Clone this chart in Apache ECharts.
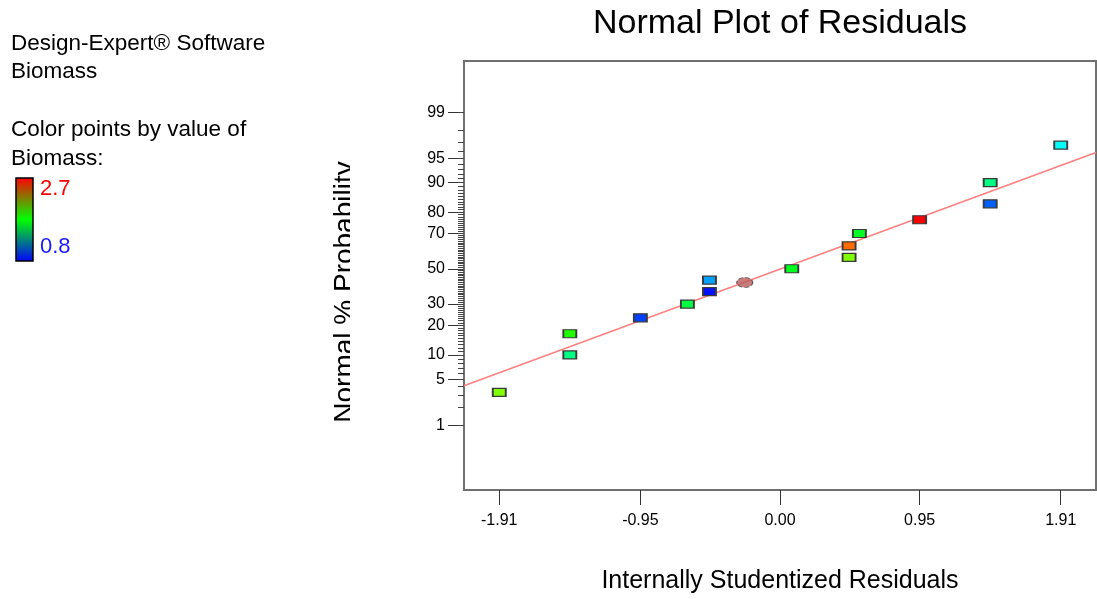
<!DOCTYPE html>
<html>
<head>
<meta charset="utf-8">
<title>Normal Plot of Residuals</title>
<script src="https://cdn.jsdelivr.net/npm/echarts@6.0.0/dist/echarts.min.js"></script>
<style>
  html, body { margin: 0; padding: 0; background: #fff; }
  #chart { width: 1097px; height: 599px; }
</style>
</head>
<body>
<div id="chart"></div>
<script>
// values
const probTicks = [1, 5, 10, 20, 30, 50, 70, 80, 90, 95, 99]
const residualTicks = [-1.91, -0.95, 0.00, 0.95, 1.91]
const residuals = [-1.91, -1.43, -1.43, -0.95, -0.63, -0.48, -0.48, 0.08, 0.47, 0.47, 0.54, 0.95, 1.43, 1.43, 1.91]
const probabilities = [3.3, 10, 16.7, 23.3, 30, 36.7, 43.3, 50, 56.7, 63.3, 70, 76.7, 83.3, 90, 96.7]
const biomass = [1.99, 1.51, 1.81, 0.92, 1.63, 0.83, 1.10, 1.69, 1.99, 2.50, 1.69, 2.70, 0.98, 1.51, 1.28]
const markedPoint = [-0.24, 41.9]
const fitResidual = [-2.15, 2.15]
const fitProbability = [4.1, 95.8]
const biomassRange = [0.8, 2.7]

const FONT = 'Liberation Sans, Arial, sans-serif'

// inverse normal cdf (Acklam) -> probability scale
function qnorm(p) {
  const a = [-39.6968302866538, 220.946098424521, -275.928510446969, 138.357751867269, -30.6647980661472, 2.50662827745924]
  const b = [-54.4760987982241, 161.585836858041, -155.698979859887, 66.8013118877197, -13.2806815528857]
  const c = [-0.00778489400243029, -0.322396458041136, -2.40075827716184, -2.54973253934373, 4.37466414146497, 2.93816398269878]
  const d = [0.00778469570904146, 0.32246712907004, 2.445134137143, 3.75440866190742]
  const pl = 0.02425
  let q, r
  if (p < pl) {
    q = Math.sqrt(-2 * Math.log(p))
    return (((((c[0] * q + c[1]) * q + c[2]) * q + c[3]) * q + c[4]) * q + c[5]) / ((((d[0] * q + d[1]) * q + d[2]) * q + d[3]) * q + 1)
  }
  if (p > 1 - pl) {
    q = Math.sqrt(-2 * Math.log(1 - p))
    return -(((((c[0] * q + c[1]) * q + c[2]) * q + c[3]) * q + c[4]) * q + c[5]) / ((((d[0] * q + d[1]) * q + d[2]) * q + d[3]) * q + 1)
  }
  q = p - 0.5
  r = q * q
  return (((((a[0] * r + a[1]) * r + a[2]) * r + a[3]) * r + a[4]) * r + a[5]) * q / (((((b[0] * r + b[1]) * r + b[2]) * r + b[3]) * r + b[4]) * r + 1)
}
const toZ = pct => qnorm(pct / 100)

const zTicks = probTicks.map(toZ)
const zMinor = []
for (let i = 1; i <= 99; i++) zMinor.push(toZ(i))

const chart = echarts.init(document.getElementById('chart'))

chart.setOption({
  animation: false,
  textStyle: { fontFamily: FONT },
  grid: {
    left: 464,
    right: 1,
    top: 61,
    bottom: 105,
    show: true,
    borderColor: '#707070',
    borderWidth: 2
  },
  xAxis: {
    type: 'value',
    min: -2.15,
    max: 2.15,
    splitLine: { show: false },
    axisLine: { show: false, onZero: false },
    axisTick: {
      customValues: residualTicks,
      length: 15,
      lineStyle: { color: '#333' }
    },
    axisLabel: {
      customValues: residualTicks,
      formatter: v => v.toFixed(2),
      margin: 23,
      fontSize: 16,
      color: '#000',
      fontFamily: FONT
    },
    name: 'Internally Studentized Residuals',
    nameLocation: 'middle',
    nameGap: 79,
    nameTextStyle: { fontSize: 25, color: '#000', fontFamily: FONT }
  },
  yAxis: [{
    type: 'value',
    min: -3.29,
    max: 3.09,
    splitLine: { show: false },
    axisLine: { show: false, onZero: false },
    axisTick: {
      customValues: zTicks,
      length: 16,
      lineStyle: { color: '#333' }
    },
    axisLabel: {
      customValues: zTicks,
      formatter: v => {
        const i = zTicks.findIndex(z => Math.abs(z - v) < 1e-6)
        return i >= 0 ? String(probTicks[i]) : ''
      },
      margin: 19,
      fontSize: 16,
      color: '#000',
      fontFamily: FONT
    }
  }, {
    type: 'value',
    min: -3.29,
    max: 3.09,
    position: 'left',
    splitLine: { show: false },
    axisLine: { show: false, onZero: false },
    axisLabel: { show: false },
    axisTick: {
      customValues: zMinor,
      length: 6,
      lineStyle: { color: '#444' }
    }
  }],
  visualMap: {
    type: 'continuous',
    show: false,
    seriesIndex: 0,
    dimension: 2,
    min: biomassRange[0],
    max: biomassRange[1],
    inRange: { color: ['#0000ff', '#00ffff', '#00ff00', '#ffff00', '#ff0000'] }
  },
  series: [{
    type: 'scatter',
    symbol: 'rect',
    symbolSize: [13, 8],
    z: 5,
    itemStyle: { borderColor: '#3a3a3a', borderWidth: 1.5, opacity: 1 },
    data: residuals.map((r, i) => [r, toZ(probabilities[i]), biomass[i]])
  }, {
    type: 'line',
    symbol: 'none',
    z: 2,
    lineStyle: { color: '#ff8080', width: 1.6 },
    data: fitResidual.map((r, i) => [r, toZ(fitProbability[i])])
  }, {
    type: 'scatter',
    symbol: 'circle',
    symbolSize: [16, 10],
    z: 6,
    itemStyle: { color: '#b85c5a', borderColor: '#444', borderWidth: 1, borderType: 'dashed' },
    data: [[markedPoint[0], toZ(markedPoint[1])]]
  }],
  graphic: [
    {
      type: 'text', x: 780, y: 24,
      style: { text: 'Normal Plot of Residuals', fontSize: 34, fontFamily: FONT, fill: '#000', textAlign: 'center', textVerticalAlign: 'middle' }
    },
    {
      type: 'text', x: 345.5, y: 292, rotation: Math.PI / 2,
      style: { text: 'Normal % Probability', fontSize: 28, fontFamily: FONT, fill: '#000', textAlign: 'center', textVerticalAlign: 'middle' }
    },
    // the reference clips the y title along its baseline
    { type: 'rect', z: 100, shape: { x: 350, y: 140, width: 14, height: 300 }, style: { fill: '#fff' } },
    { type: 'text', x: 11, y: 44, style: { text: 'Design-Expert® Software', fontSize: 22.5, fontFamily: FONT, fill: '#000', textVerticalAlign: 'middle' } },
    { type: 'text', x: 11, y: 72, style: { text: 'Biomass', fontSize: 22.5, fontFamily: FONT, fill: '#000', textVerticalAlign: 'middle' } },
    { type: 'text', x: 11, y: 130, style: { text: 'Color points by value of', fontSize: 22.5, fontFamily: FONT, fill: '#000', textVerticalAlign: 'middle' } },
    { type: 'text', x: 11, y: 159, style: { text: 'Biomass:', fontSize: 22.5, fontFamily: FONT, fill: '#000', textVerticalAlign: 'middle' } },
    {
      type: 'rect',
      shape: { x: 16, y: 178, width: 17, height: 83 },
      style: {
        fill: new echarts.graphic.LinearGradient(0, 0, 0, 1, [
          { offset: 0, color: '#ff0000' },
          { offset: 0.5, color: '#00ff00' },
          { offset: 1, color: '#0000ff' }
        ]),
        stroke: '#000',
        lineWidth: 1.5
      }
    },
    { type: 'text', x: 40, y: 189, style: { text: String(biomassRange[1]), fontSize: 22, fontFamily: FONT, fill: '#ff0000', textVerticalAlign: 'middle' } },
    { type: 'text', x: 40, y: 247, style: { text: String(biomassRange[0]), fontSize: 22, fontFamily: FONT, fill: '#1a1aff', textVerticalAlign: 'middle' } }
  ]
})
</script>
</body>
</html>
